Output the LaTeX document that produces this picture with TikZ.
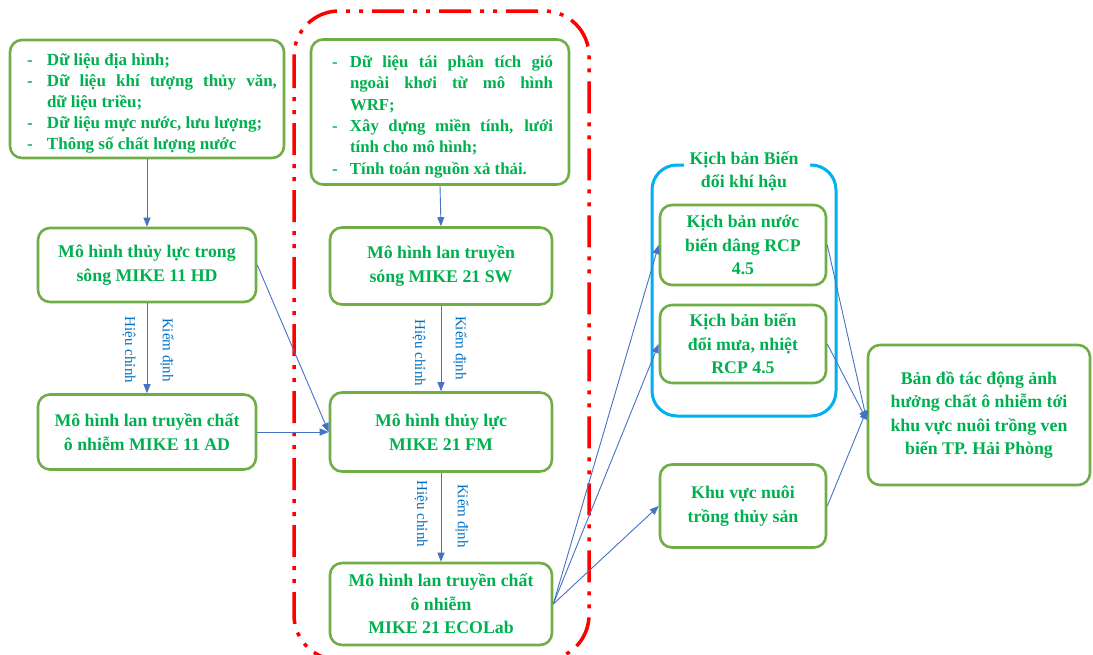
\documentclass[tikz,border=0pt]{standalone}
\usepackage{fontspec}
\setmainfont{Liberation Serif}
\usetikzlibrary{arrows.meta}
\definecolor{bgreen}{RGB}{112,173,71}
\definecolor{tgreen}{RGB}{0,176,80}
\definecolor{abl}{RGB}{68,114,196}
\definecolor{lbl}{RGB}{0,112,192}
\definecolor{cyanf}{RGB}{0,176,240}
\newcommand\itm[3][25pt]{\par\hangindent=#1\hangafter=1\noindent\makebox[#1][l]{\hspace{#2}-}#3}
\tikzset{
  box/.style={draw=bgreen, line width=2.6pt, rounded corners=12pt, text=tgreen,
    font=\bfseries\fontsize{17.8}{23.5}\selectfont, align=center, inner sep=0pt},
  listbox/.style={box, font=\bfseries\fontsize{17}{21}\selectfont, align=justify},
  arr/.style={draw=abl, line width=0.9pt, -{Triangle[length=9pt,width=7pt]}},
  lab/.style={text=lbl, font=\fontsize{15}{15}\selectfont, inner sep=0pt, rotate=-90},
  ttl/.style={text=tgreen, font=\bfseries\fontsize{17.8}{23}\selectfont, align=center, inner sep=0pt}
}
\begin{document}
\begin{tikzpicture}[x=1pt,y=-1pt]
\useasboundingbox (0,0) rectangle (1093,654);
\clip (0,0) rectangle (1093,654);
% frames
\draw[red, line width=3.5pt, rounded corners=45pt,
  dash pattern=on 32pt off 9pt on 4pt off 9pt on 4pt off 9pt]
  (294,11) rectangle (589,660);
\draw[cyanf, line width=3pt, rounded corners=25pt]
  (684,165) -- (652,165) -- (652,416) -- (836,416) -- (836,165) -- (810,165);
% boxes
\node[listbox, minimum width=274, minimum height=118, text width=260] (A) at (147,99) {%
\itm[30pt]{10pt}{Dữ liệu địa hình;}
\itm[30pt]{10pt}{Dữ liệu khí tượng thủy văn,\linebreak dữ liệu triều;}
\itm[30pt]{10pt}{Dữ liệu mực nước, lưu lượng;}
\itm[30pt]{10pt}{Thông số chất lượng nước}};
\node[box, minimum width=218, minimum height=74] (B) at (147,265) {Mô hình thủy lực trong\\sông MIKE 11 HD};
\node[box, minimum width=218, minimum height=75] (C) at (147,432) {Mô hình lan truyền chất\\ô nhiễm MIKE 11 AD};
\node[listbox, font=\bfseries\fontsize{16.8}{21.4}\selectfont, minimum width=258, minimum height=145, text width=226] (D) at (440,112) {%
\itm[23pt]{5pt}{Dữ liệu tái phân tích gió\linebreak ngoài khơi từ mô hình\linebreak WRF;}
\itm[23pt]{5pt}{Xây dựng miền tính, lưới\linebreak tính cho mô hình;}
\itm[23pt]{5pt}{Tính toán nguồn xả thải.}};
\node[box, minimum width=222, minimum height=77] (E) at (441,266) {Mô hình lan truyền\\sóng MIKE 21 SW};
\node[box, minimum width=222, minimum height=79] (F) at (441,432) {Mô hình thủy lực\\MIKE 21 FM};
\node[box, minimum width=222, minimum height=82] (G) at (441,604) {Mô hình lan truyền chất\\ô nhiễm\\MIKE 21 ECOLab};
\node[ttl] (T) at (744,171) {Kịch bản Biến\\đổi khí hậu};
\node[box, minimum width=166, minimum height=80] (H) at (743,245) {Kịch bản nước\\biển dâng RCP\\4.5};
\node[box, minimum width=166, minimum height=78] (I) at (743,344) {Kịch bản biến\\đổi mưa, nhiệt\\RCP 4.5};
\node[box, minimum width=166, minimum height=83] (J) at (743,506) {Khu vực nuôi\\trồng thủy sản};
\node[box, minimum width=222, minimum height=140] (K) at (979,415) {Bản đồ tác động ảnh\\hưởng chất ô nhiễm tới\\khu vực nuôi trồng ven\\biển TP. Hải Phòng};
% connectors
\coordinate (K1) at ([yshift=-5pt]K.west);
\coordinate (K2) at ([yshift=5pt]K.west);
\draw[arr] (A.south) -- (B.north);
\draw[arr] (B.south) -- (C.north);
\draw[arr] (D.south) -- (E.north);
\draw[arr] (E.south) -- (F.north);
\draw[arr] (F.south) -- (G.north);
\draw[arr] (B.east) -- (F.west);
\draw[arr] (C.east) -- (F.west);
\draw[arr] (G.east) -- (H.west);
\draw[arr] (G.east) -- (I.west);
\draw[arr] (G.east) -- (J.west);
\draw[arr] (H.east) -- (K1);
\draw[arr] (I.east) -- (K1);
\draw[arr] (J.east) -- (K2);
% labels
\node[lab] (l1) at (129,350) {Hiệu chỉnh};
\node[lab] (l2) at (167,350) {Kiểm định};
\node[lab] (l3) at (419,353) {Hiệu chỉnh};
\node[lab] (l4) at (460,348) {Kiểm định};
\node[lab] (l5) at (421,514) {Hiệu chỉnh};
\node[lab] (l6) at (462,516) {Kiểm định};
\end{tikzpicture}
\end{document}
